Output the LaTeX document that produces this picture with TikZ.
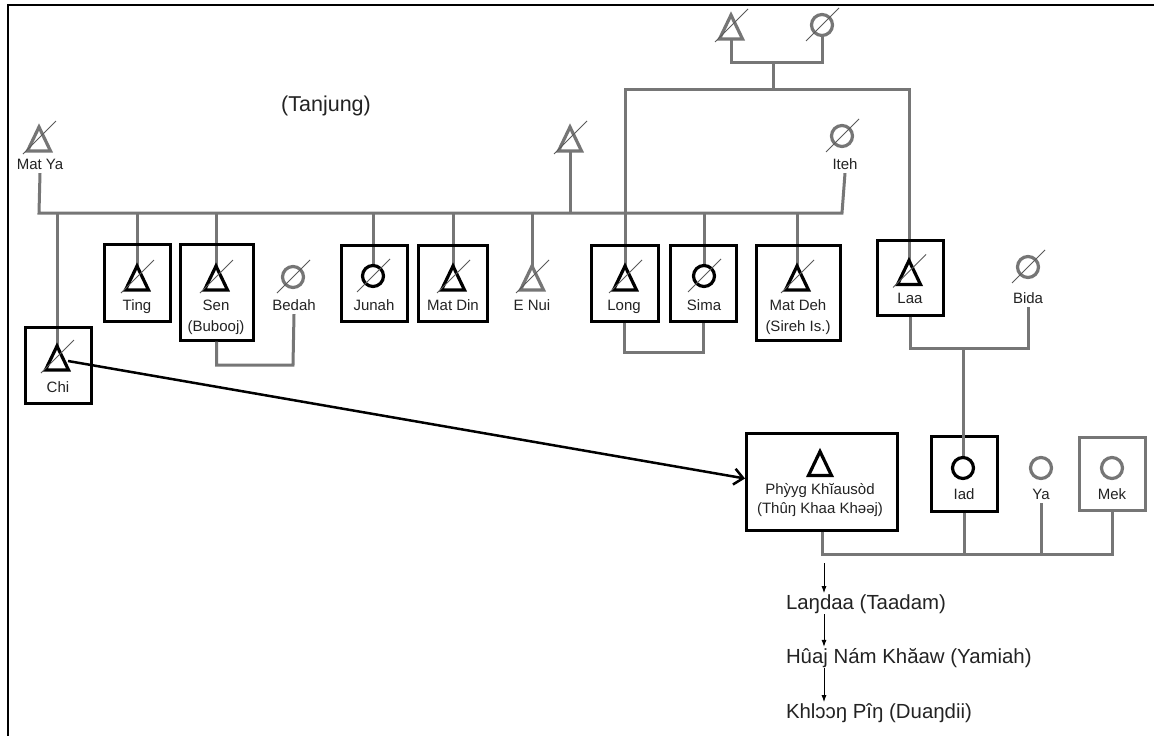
\documentclass[tikz,border=0pt]{standalone}
\usepackage{fontspec}
\setmainfont{Liberation Sans}
\usetikzlibrary{calc,arrows.meta}
\definecolor{lg}{RGB}{118,118,118}
\definecolor{tx}{RGB}{35,35,35}
\newcommand{\ptri}[3]{\coordinate (#1) at (#2); \draw[#3] ($(#1)+(0,-11)$) -- ($(#1)+(11.5,13)$) -- ($(#1)+(-11.5,13)$) -- cycle;}
\newcommand{\pcirc}[3]{\coordinate (#1) at (#2); \draw[#3] (#1) circle[radius=10.5];}
\newcommand{\pdead}[1]{\draw[slashl] ($(#1)+(-16,16)$) -- ($(#1)+(17,-17)$);}
\begin{document}
\begin{tikzpicture}[x=1pt,y=-1pt,
  gl/.style={draw=lg,line width=3pt},
  kbox/.style={draw=black,line width=3pt,inner sep=0pt,fill=none},
  gbox/.style={draw=lg,line width=3pt,inner sep=0pt},
  ksym/.style={draw=black,line width=3.2pt,line join=miter},
  gsym/.style={draw=lg,line width=3.2pt,line join=miter},
  slashl/.style={draw=black!65,line width=0.8pt},
  lab/.style={font=\fontsize{15}{17}\selectfont,text=tx,inner sep=0pt,outer sep=4pt,anchor=base},
  big/.style={font=\fontsize{20.4}{24}\selectfont,text=tx,inner sep=0pt,outer sep=1pt,anchor=base west},
  sarr/.style={draw=black,line width=1pt,-{Latex[length=7pt,width=5pt]}},
  barr/.style={draw=black,line width=2.5pt,-{Straight Barb[length=9pt,width=16pt,line width=2.5pt]}}
]
\useasboundingbox (0,0) rectangle (1154,736);
\fill[white] (0,0) rectangle (1154,736);
\draw[line width=2.5pt] (8,736) -- (8,5) -- (1154,5);

% junction coordinates
\coordinate (hl) at (0,213);
\coordinate (sib) at (0,89);
\coordinate (gfj) at (773,62);
\coordinate (sbj) at (0,365);
\coordinate (lsj) at (0,352);
\coordinate (lbj) at (0,348);
\coordinate (lbc) at (963,348);
\coordinate (sj) at (0,554);
\coordinate (ax) at (824,0);

% symbol positions
\coordinate (matya) at (39,138);
\coordinate (unk) at (570,138);
\coordinate (gf) at (731,26);
\coordinate (gm) at (822,25);
\coordinate (iteh) at (842,136);
\coordinate (chi) at (57,357);
\coordinate (ting) at (137,277);
\coordinate (sen) at (216,277);
\coordinate (bedah) at (293,277);
\coordinate (junah) at (373,276);
\coordinate (matdin) at (453,277);
\coordinate (enui) at (532,277);
\coordinate (long) at (625,277);
\coordinate (sima) at (704,276);
\coordinate (matdeh) at (797,277);
\coordinate (laa) at (909,271.5);
\coordinate (bida) at (1028,267);
\coordinate (phy) at (820,462.5);
\coordinate (iad) at (963,468);
\coordinate (ya) at (1041,468);
\coordinate (mek) at (1112,468);

% labels
\node[lab] (matyaL) at (40,169) {Mat Ya};
\node[lab] (itehL) at (845,169) {Iteh};
\node[lab] (tingL) at (137,310) {Ting};
\node[lab] (senL) at (216,310) {Sen};
\node[lab] (senL2) at (216,331) {(Bubooj)};
\node[lab] (bedahL) at (294,310) {Bedah};
\node[lab] (junahL) at (374,310) {Junah};
\node[lab] (matdinL) at (453,310) {Mat Din};
\node[lab] (enuiL) at (532,310) {E Nui};
\node[lab] (longL) at (624,310) {Long};
\node[lab] (simaL) at (704,310) {Sima};
\node[lab] (matdehL) at (798,310) {Mat Deh};
\node[lab] (matdehL2) at (798,331) {(Sireh Is.)};
\node[lab] (laaL) at (910,303) {Laa};
\node[lab] (bidaL) at (1028,303) {Bida};
\node[lab] (chiL) at (58,392) {Chi};
\node[lab] (phyL) at (820,494) {Phỳyg Khĭausòd};
\node[lab] (phyL2) at (820,513) {(Thûŋ Khaa Khəəj)};
\node[lab] (iadL) at (964,499) {Iad};
\node[lab] (yaL) at (1041,499) {Ya};
\node[lab] (mekL) at (1112,499) {Mek};
\node[font=\fontsize{21.5}{25}\selectfont,text=tx,inner sep=0pt,anchor=base] (tanj) at (326,111) {(Tanjung)};

% connectors (gray)
\draw[gl] (matyaL.south) -- (matya |- hl) -- (iteh |- hl) -- (itehL.south);
\draw[gl] (chi |- hl) -- ($(chi)+(0,-11)$);
\draw[gl] (ting |- hl) -- ($(ting)+(0,-11)$);
\draw[gl] (sen |- hl) -- ($(sen)+(0,-11)$);
\draw[gl] (junah |- hl) -- ($(junah)+(0,-10.5)$);
\draw[gl] (matdin |- hl) -- ($(matdin)+(0,-11)$);
\draw[gl] (enui |- hl) -- ($(enui)+(0,-11)$);
\draw[gl] ($(unk)+(0,13)$) -- (unk |- hl);
\draw[gl] (sima |- hl) -- ($(sima)+(0,-10.5)$);
\draw[gl] (matdeh |- hl) -- ($(matdeh)+(0,-11)$);
\draw[gl] ($(gf)+(0,13)$) -- (gf |- gfj) -- (gm |- gfj) -- ($(gm)+(0,10.5)$);
\draw[gl] (gfj) -- (gfj |- sib);
\draw[gl] ($(long)+(0,-11)$) -- (long |- sib) -- (laa |- sib) -- ($(laa)+(0,-11)$);

% boxes
\node[kbox,minimum width=66pt,minimum height=77pt] (tingbox) at (137,282.5) {};
\node[kbox,minimum width=73pt,minimum height=96pt] (senbox) at (216.5,292) {};
\node[kbox,minimum width=66pt,minimum height=76pt] (junahbox) at (374,283) {};
\node[kbox,minimum width=69pt,minimum height=76pt] (matdinbox) at (452.5,283) {};
\node[kbox,minimum width=67pt,minimum height=76pt] (longbox) at (624.5,283) {};
\node[kbox,minimum width=66pt,minimum height=76pt] (simabox) at (703,283) {};
\node[kbox,minimum width=84pt,minimum height=95pt] (matdehbox) at (798,292.5) {};
\node[kbox,minimum width=66pt,minimum height=75pt] (laabox) at (910,277.5) {};
\node[kbox,minimum width=66pt,minimum height=76pt] (chibox) at (58,365) {};
\node[kbox,minimum width=151pt,minimum height=97pt] (phybox) at (822,481.5) {};
\node[kbox,minimum width=66pt,minimum height=75pt] (iadbox) at (964,473.5) {};
\node[gbox,minimum width=66pt,minimum height=73pt] (mekbox) at (1112,473.5) {};

% marriage and sibling lines
\draw[gl] (senbox.south) -- (senbox.south |- sbj) -- (bedah |- sbj) -- (bedahL.south);
\draw[gl] (longbox.south) -- (longbox.south |- lsj) -- (simabox.south |- lsj) -- (simabox.south);
\draw[gl] (laabox.south) -- (laabox.south |- lbj) -- (bida |- lbj) -- (bidaL.south);
\draw[gl] (lbc) -- ($(iad)+(0,-10.5)$);
\draw[gl] (phybox.south) -- (phybox.south |- sj) -- (mekbox.south |- sj) -- (mekbox.south);
\draw[gl] (iadbox.south) -- (iadbox.south |- sj);
\draw[gl] (yaL.south) -- (yaL.south |- sj);

% symbols
\ptri{matya}{39,138}{gsym} \pdead{matya}
\ptri{unk}{570,138}{gsym} \pdead{unk}
\ptri{gf}{731,26}{gsym} \pdead{gf}
\pcirc{gm}{822,25}{gsym} \pdead{gm}
\pcirc{iteh}{842,136}{gsym} \pdead{iteh}
\ptri{chi}{57,357}{ksym} \pdead{chi}
\ptri{ting}{137,277}{ksym} \pdead{ting}
\ptri{sen}{216,277}{ksym} \pdead{sen}
\pcirc{bedah}{293,277}{gsym} \pdead{bedah}
\pcirc{junah}{373,276}{ksym} \pdead{junah}
\ptri{matdin}{453,277}{ksym} \pdead{matdin}
\ptri{enui}{532,277}{gsym} \pdead{enui}
\ptri{long}{625,277}{ksym} \pdead{long}
\pcirc{sima}{704,276}{ksym} \pdead{sima}
\ptri{matdeh}{797,277}{ksym} \pdead{matdeh}
\ptri{laa}{909,271.5}{ksym} \pdead{laa}
\pcirc{bida}{1028,267}{gsym} \pdead{bida}
\ptri{phy}{820,462.5}{ksym}
\pcirc{iad}{963,468}{ksym}
\pcirc{ya}{1041,468}{gsym}
\pcirc{mek}{1112,468}{gsym}

% long arrow
\draw[barr] ($(chi)+(11,4)$) -- ($(phybox.west)+(0,-3)$);

% descent texts
\node[big] (t1) at (785,609) {Laŋdaa (Taadam)};
\node[big] (t2) at (785,663) {Hûaj Nám Khăaw (Yamiah)};
\node[big] (t3) at (785,718) {Khlɔɔŋ Pîŋ (Duaŋdii)};
\draw[sarr] ($(ax |- sj)+(0,9)$) -- (ax |- t1.north);
\draw[sarr] (ax |- t1.south) -- (ax |- t2.north);
\draw[sarr] (ax |- t2.south) -- (ax |- t3.north);
\end{tikzpicture}
\end{document}
